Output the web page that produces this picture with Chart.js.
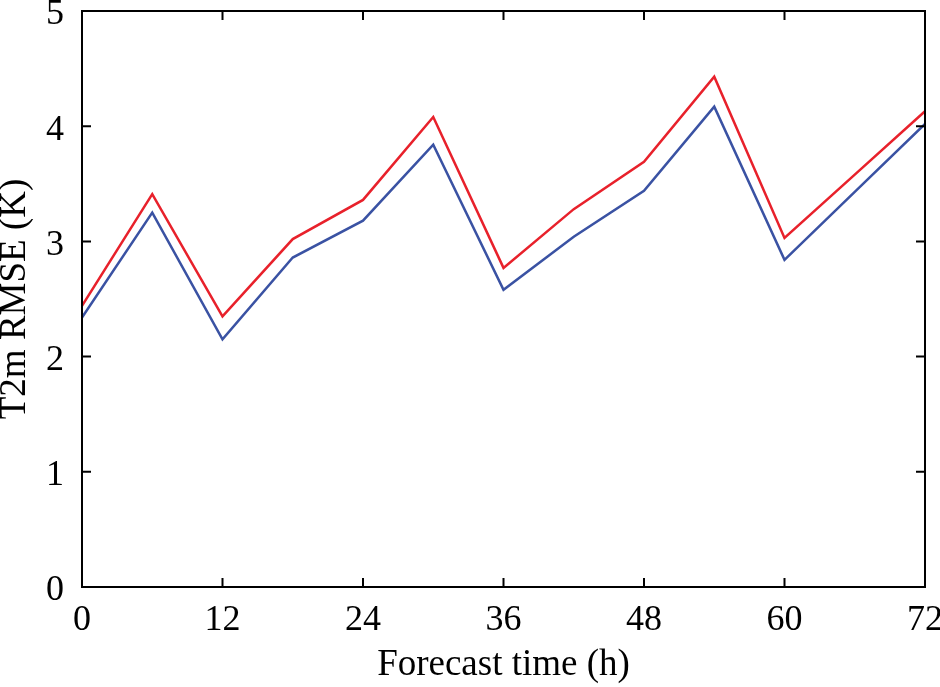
<!DOCTYPE html>
<html lang="en">
  <head>
    <meta charset="UTF-8" />
    <title>T2m RMSE</title>
    <style>
      html, body { margin: 0; padding: 0; background: #fff; }
      #wrap { width: 940px; height: 687px; }
    </style>
  </head>
  <body>
    <div id="wrap"><canvas id="myChart" width="940" height="687"></canvas></div>
  </body>
</html>
<script src="https://cdn.jsdelivr.net/npm/chart.js"></script>

<script>
  // forecast lead time (h) and RMSE values
  const hours = [0, 6, 12, 18, 24, 30, 36, 42, 48, 54, 60, 66, 72];
  const redRmse = [2.44, 3.41, 2.35, 3.02, 3.36, 4.08, 2.77, 3.28, 3.69, 4.43, 3.03, 3.58, 4.13];
  const blueRmse = [2.34, 3.25, 2.15, 2.86, 3.18, 3.84, 2.58, 3.04, 3.44, 4.17, 2.84, 3.43, 4.02];
  const xTicks = [0, 12, 24, 36, 48, 60, 72];
  const yTicks = [0, 1, 2, 3, 4, 5];

  const font = "'Liberation Serif', 'DejaVu Serif', serif";

  function toPoints(ys) {
    return hours.map((h, i) => ({ x: h, y: ys[i] }));
  }

  // frame box + inward ticks on all four sides
  const frame = {
    id: "frame",
    afterDraw(chart) {
      const c = chart.ctx;
      const a = chart.chartArea;
      const xs = chart.scales.x;
      const ys = chart.scales.y;
      const len = 9;
      c.save();
      c.strokeStyle = "#000";
      c.lineWidth = 2;
      c.strokeRect(a.left, a.top, a.right - a.left, a.bottom - a.top);
      c.beginPath();
      xTicks.forEach((t) => {
        const px = xs.getPixelForValue(t);
        c.moveTo(px, a.bottom);
        c.lineTo(px, a.bottom - len);
        c.moveTo(px, a.top);
        c.lineTo(px, a.top + len);
      });
      yTicks.forEach((t) => {
        const py = ys.getPixelForValue(t);
        c.moveTo(a.left, py);
        c.lineTo(a.left + len, py);
        c.moveTo(a.right, py);
        c.lineTo(a.right - len, py);
      });
      c.stroke();
      c.restore();
    },
  };

  const ctx = document.getElementById("myChart").getContext("2d");
  const myChart = new Chart(ctx, {
    type: "line",
    data: {
      datasets: [
        {
          data: toPoints(redRmse),
          borderColor: "#e8212b",
          borderWidth: 2.5,
          pointRadius: 0,
          tension: 0,
        },
        {
          data: toPoints(blueRmse),
          borderColor: "#3a52a3",
          borderWidth: 2.5,
          pointRadius: 0,
          tension: 0,
        },
      ],
    },
    options: {
      responsive: false,
      animation: false,
      layout: { padding: { top: 11, right: 15, left: 0, bottom: 0 } },
      plugins: { legend: { display: false }, tooltip: { enabled: false } },
      scales: {
        x: {
          type: "linear",
          min: 0,
          max: 72,
          grid: { display: false, drawTicks: false },
          border: { display: false },
          afterBuildTicks(scale) {
            scale.ticks = xTicks.map((v) => ({ value: v }));
          },
          ticks: {
            padding: 12,
            color: "#000",
            font: { family: font, size: 36 },
            maxRotation: 0,
          },
          title: {
            display: true,
            text: "Forecast time (h)",
            color: "#000",
            font: { family: font, size: 37 },
            padding: { top: 0, bottom: 0 },
          },
          afterFit(scale) {
            scale.height = 100;
            scale.paddingLeft = 0;
            scale.paddingRight = 0;
          },
        },
        y: {
          min: 0,
          max: 5,
          grid: { display: false, drawTicks: false },
          border: { display: false },
          afterBuildTicks(scale) {
            scale.ticks = yTicks.map((v) => ({ value: v }));
          },
          ticks: {
            padding: 18,
            labelOffset: 4,
            color: "#000",
            font: { family: font, size: 36 },
          },
          title: {
            display: true,
            text: "T2m RMSE (K)",
            color: "#000",
            font: { family: font, size: 37, lineHeight: 0.85 },
            padding: { top: 0, bottom: 0 },
          },
          afterFit(scale) {
            scale.width = 82;
            scale.paddingTop = 0;
            scale.paddingBottom = 0;
          },
        },
      },
    },
    plugins: [frame],
  });
</script>
